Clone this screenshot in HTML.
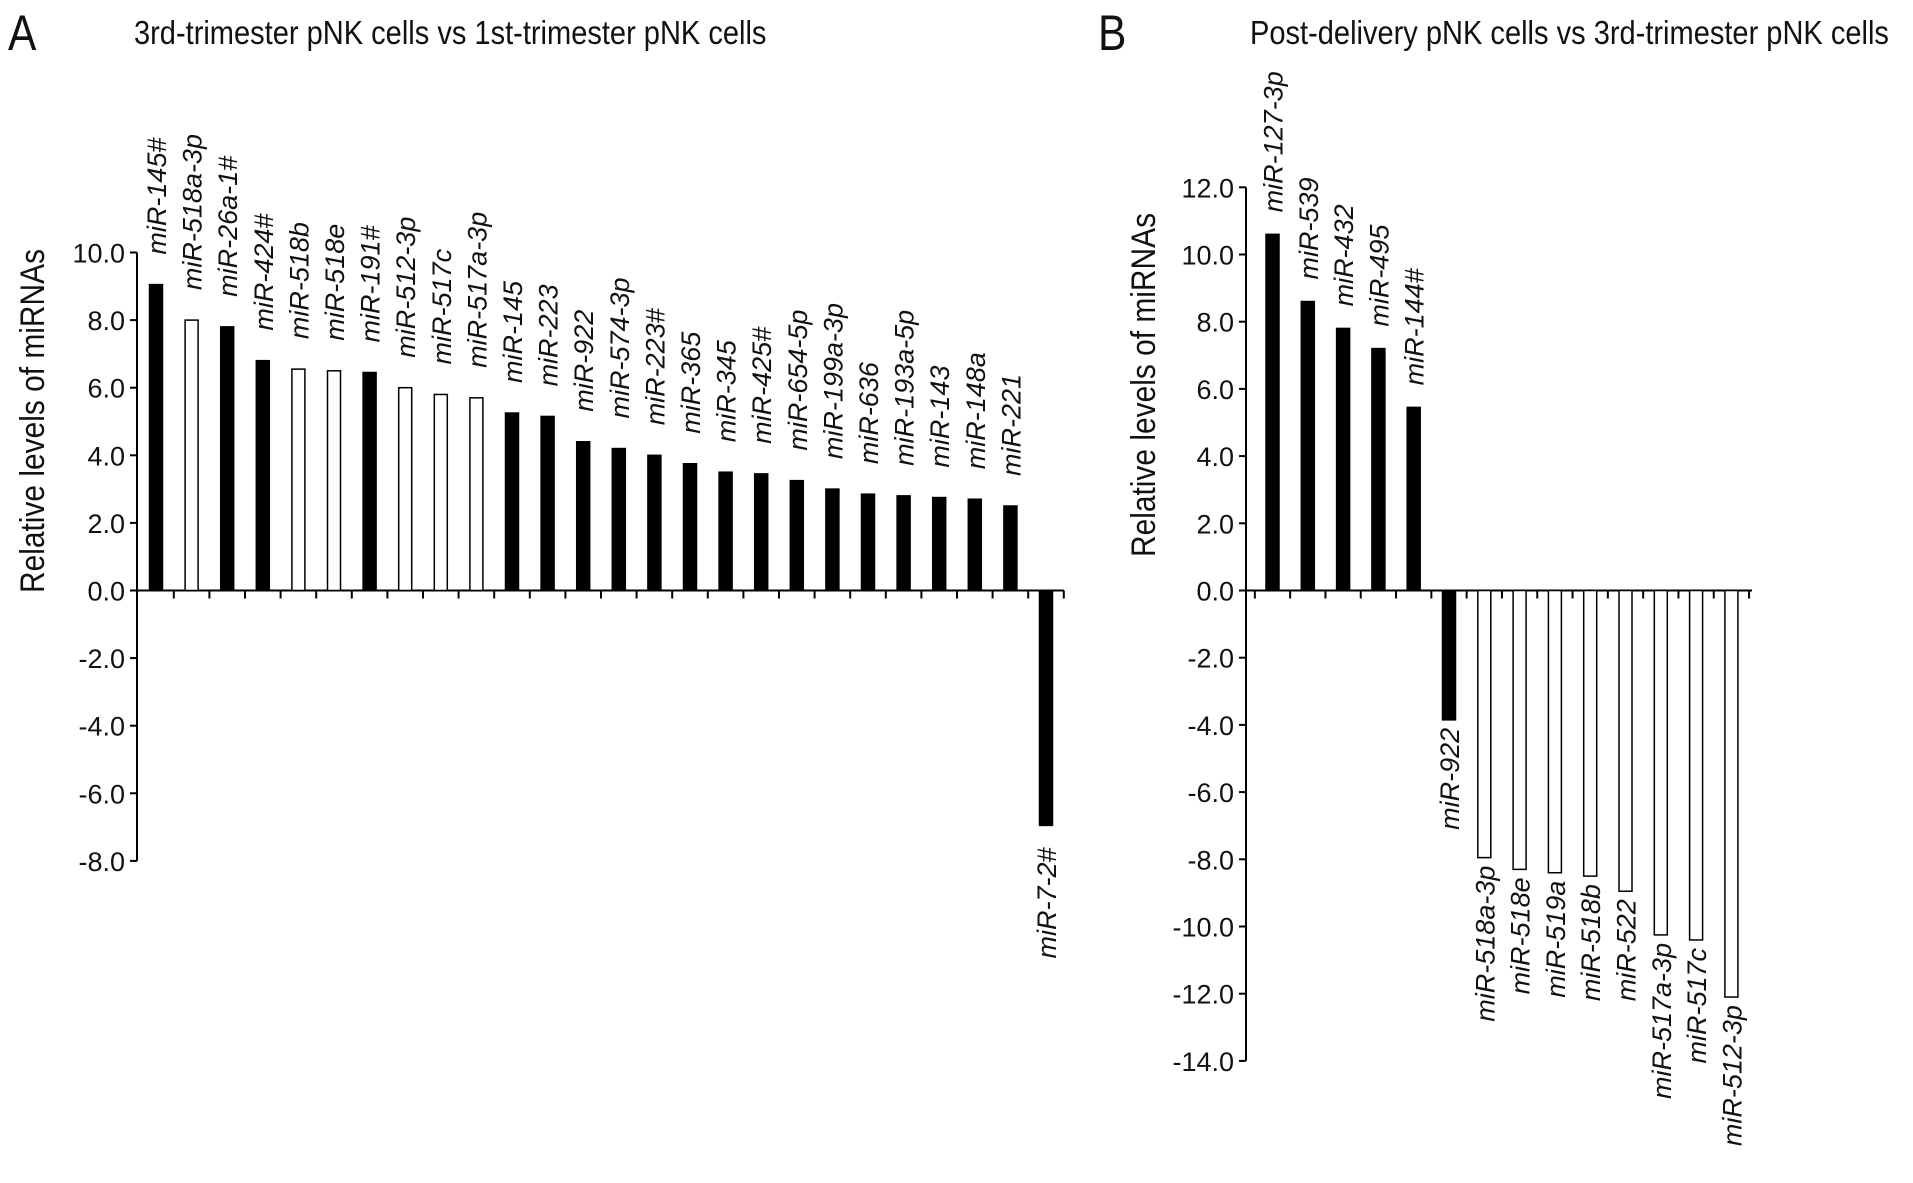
<!DOCTYPE html>
<html><head><meta charset="utf-8"><style>
body{margin:0;background:#fff}
svg text{font-family:"Liberation Sans",sans-serif;fill:#111}
</style></head><body>
<svg id="c" width="1913" height="1178" viewBox="0 0 1913 1178" xmlns="http://www.w3.org/2000/svg">
<text x="8" y="50" font-size="50" transform="translate(8,0) scale(0.85,1) translate(-8,0)">A</text>
<text x="134" y="44" font-size="33" transform="translate(134,0) scale(0.88,1) translate(-134,0)">3rd-trimester pNK cells vs 1st-trimester pNK cells</text>
<text x="1098" y="50" font-size="50" transform="translate(1098,0) scale(0.85,1) translate(-1098,0)">B</text>
<text x="1250" y="44" font-size="33" transform="translate(1250,0) scale(0.88,1) translate(-1250,0)">Post-delivery pNK cells vs 3rd-trimester pNK cells</text>
<g id="ga"></g>
<g id="gb"></g>
</svg>
<script>
const catsA=["miR-145#","miR-518a-3p","miR-26a-1#","miR-424#","miR-518b","miR-518e","miR-191#","miR-512-3p","miR-517c","miR-517a-3p","miR-145","miR-223","miR-922","miR-574-3p","miR-223#","miR-365","miR-345","miR-425#","miR-654-5p","miR-199a-3p","miR-636","miR-193a-5p","miR-143","miR-148a","miR-221","miR-7-2#"];
const valsA=[9.05,8.0,7.8,6.8,6.55,6.5,6.45,6.0,5.8,5.7,5.25,5.15,4.4,4.2,4.0,3.75,3.5,3.45,3.25,3.0,2.85,2.8,2.75,2.7,2.5,-6.95];
const filledA=[1,0,1,1,0,0,1,0,0,0,1,1,1,1,1,1,1,1,1,1,1,1,1,1,1,1];
const ticksA=[10,8,6,4,2,0,-2,-4,-6,-8];
const catsB=["miR-127-3p","miR-539","miR-432","miR-495","miR-144#","miR-922","miR-518a-3p","miR-518e","miR-519a","miR-518b","miR-522","miR-517a-3p","miR-517c","miR-512-3p"];
const valsB=[10.6,8.6,7.8,7.2,5.45,-3.85,-7.95,-8.3,-8.4,-8.5,-8.95,-10.25,-10.4,-12.1];
const filledB=[1,1,1,1,1,1,0,0,0,0,0,0,0,0];
const ticksB=[12,10,8,6,4,2,0,-2,-4,-6,-8,-10,-12,-14];
const NS="http://www.w3.org/2000/svg";
function mk(p,t,a){const e=document.createElementNS(NS,t);for(const k in a)e.setAttribute(k,a[k]);p.appendChild(e);return e;}
function draw(g,cats,vals,filled,ticks,o){
  const y=v=>o.y0-v*o.ppu;
  const x=i=>o.c0+i*o.band;
  let l=mk(g,'line',{x1:o.ax,y1:y(ticks[0]),x2:o.ax,y2:y(ticks[ticks.length-1]),stroke:'#000','stroke-width':2});
  
  l=mk(g,'line',{x1:o.ax,y1:y(0),x2:o.axEnd,y2:y(0),stroke:'#000','stroke-width':2});
  
  ticks.forEach(t=>{
    mk(g,'line',{x1:o.ax-7,y1:y(t),x2:o.ax,y2:y(t),stroke:'#000','stroke-width':2});
    const tx=mk(g,'text',{x:o.ax-12,y:y(t)+10,'font-size':27,'text-anchor':'end'});
    tx.textContent=t.toFixed(1);
    
    
  });
  for(let i=0;i<=cats.length;i++){const bx=x(i)-o.band/2; if(bx>o.ax+2) mk(g,'line',{x1:bx,y1:y(0),x2:bx,y2:y(0)+8,stroke:'#000','stroke-width':2});}
  cats.forEach((c,i)=>{
    const v=vals[i],top=Math.min(y(v),y(0)),h=Math.abs(y(v)-y(0));
    const r=mk(g,'rect',{x:x(i)-o.bw/2,y:top,width:o.bw,height:h,fill:filled[i]?'#000':'#fff',stroke:'#000','stroke-width':1.5});
    
    
    const lx=x(i)+10;
    let ly,anchor;
    if(v>=0){ly=y(v)-o.gapPos;anchor='start';}else{ly=y(v)+o.gapNeg;anchor='end';}
    const t=mk(g,'text',{x:lx,y:ly,'font-size':27,'font-style':'italic','text-anchor':anchor,transform:`rotate(-90 ${lx} ${ly})`});
    t.textContent=c;
    
    
  });
  const yt=mk(g,'text',{x:0,y:0,'font-size':34,'text-anchor':'middle',transform:`translate(${o.titleX},${o.titleY}) rotate(-90) scale(0.88,1)`});
  yt.textContent='Relative levels of miRNAs';
  
  
}
draw(document.getElementById('ga'),catsA,valsA,filledA,ticksA,{ax:137,axEnd:1064,y0:590.5,ppu:33.8,c0:156,band:35.6,bw:13,titleX:44,titleY:421,gapPos:30,gapNeg:22});
draw(document.getElementById('gb'),catsB,valsB,filledB,ticksB,{ax:1246,axEnd:1752,y0:590.5,ppu:33.6,c0:1272.5,band:35.3,bw:13,titleX:1155,titleY:385,gapPos:22,gapNeg:8});
</script>
</body></html>
